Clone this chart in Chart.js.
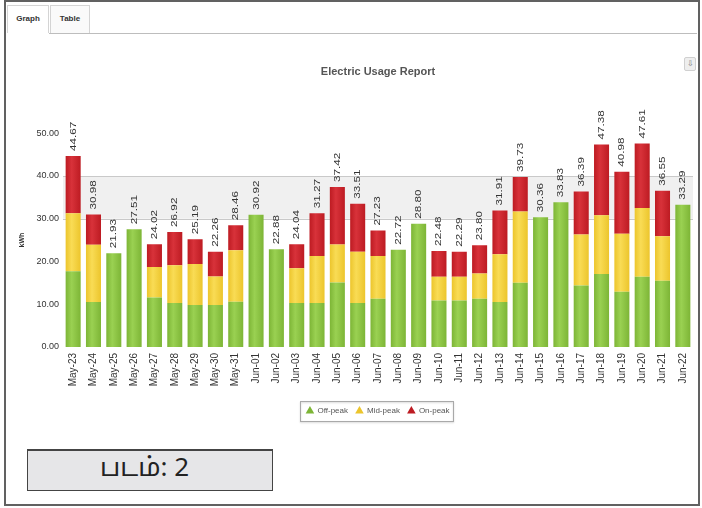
<!DOCTYPE html>
<html>
<head>
<meta charset="utf-8">
<script src="https://cdn.jsdelivr.net/npm/chart.js@4.4.1/dist/chart.umd.min.js"></script>
<style>
  body { margin: 0; width: 702px; height: 508px; background: #fff; overflow: hidden; position: relative; font-family: Arial, "Liberation Sans", sans-serif; }
  #frame { position: absolute; left: 4px; top: 0; width: 696px; height: 506px; border: 2px solid #616161; box-sizing: border-box; }
  .tab { position: absolute; top: 5px; height: 28px; box-sizing: border-box; border: 1px solid #d4d4d4; border-bottom: none; font: bold 8px Arial, sans-serif; color: #333; text-align: center; line-height: 26px; }
  #tab-graph { left: 7px; width: 42px; background: #fff; }
  #tab-table { left: 50px; width: 40px; background: #fafafa; }
  #tab-line { position: absolute; left: 49px; top: 33px; width: 648px; height: 1px; background: #bdbdbd; }
  #download { position: absolute; left: 684px; top: 57px; width: 12px; height: 14px; box-sizing: border-box; border: 1px solid #d0d0d0; border-radius: 2px; background: #eee; font: 8px Arial, sans-serif; color: #777; text-align: center; line-height: 12px; }
  #chart-wrap { position: absolute; left: 0; top: 40px; width: 702px; height: 400px; }
  #caption { position: absolute; left: 27px; top: 449px; width: 246px; height: 42px; box-sizing: border-box; background: #e6e6e8; border: 1px solid #444; border-top-width: 2px; font: 26px "Noto Sans Tamil", "Lohit Tamil", "Noto Sans", sans-serif; color: #222; line-height: 38px; padding-left: 72px; }
</style>
</head>
<body>
<div id="frame"></div>
<div class="tab" id="tab-graph">Graph</div>
<div class="tab" id="tab-table">Table</div>
<div id="tab-line"></div>
<div id="download">&#8681;</div>
<div id="chart-wrap"><canvas id="usage-chart" width="702" height="400"></canvas></div>
<div id="caption">படம்: 2</div>

<script>
// dates on the x axis
const dates = [
  'May-23', 'May-24', 'May-25', 'May-26', 'May-27', 'May-28', 'May-29', 'May-30', 'May-31',
  'Jun-01', 'Jun-02', 'Jun-03', 'Jun-04', 'Jun-05', 'Jun-06', 'Jun-07', 'Jun-08', 'Jun-09',
  'Jun-10', 'Jun-11', 'Jun-12', 'Jun-13', 'Jun-14', 'Jun-15', 'Jun-16', 'Jun-17', 'Jun-18',
  'Jun-19', 'Jun-20', 'Jun-21', 'Jun-22'
];

// kWh per tariff band
const offPeak = [
  17.7, 10.5, 21.93, 27.51, 11.6, 10.3, 9.8, 9.8, 10.6,
  30.92, 22.88, 10.3, 10.3, 15.1, 10.3, 11.3, 22.72, 28.80,
  10.9, 10.9, 11.3, 10.5, 15.0, 30.36, 33.83, 14.4, 17.1,
  12.9, 16.4, 15.5, 33.29
];
const midPeak = [
  13.6, 13.4, 0, 0, 7.1, 8.8, 9.6, 6.7, 12.0,
  0, 0, 8.1, 11.0, 8.9, 12.0, 10.0, 0, 0,
  5.5, 5.5, 5.9, 11.2, 16.7, 0, 0, 11.9, 13.7,
  13.6, 16.1, 10.4, 0
];
const onPeak = [
  13.37, 7.08, 0, 0, 5.32, 7.82, 5.79, 5.76, 5.86,
  0, 0, 5.64, 9.97, 13.42, 11.21, 5.93, 0, 0,
  6.08, 5.89, 6.60, 10.21, 8.03, 0, 0, 10.09, 16.58,
  14.48, 15.11, 10.65, 0
];

// totals printed above each column
const totalLabels = [
  '44.67', '30.98', '21.93', '27.51', '24.02', '26.92', '25.19', '22.26', '28.46',
  '30.92', '22.88', '24.04', '31.27', '37.42', '33.51', '27.23', '22.72', '28.80',
  '22.48', '22.29', '23.80', '31.91', '39.73', '30.36', '33.83', '36.39', '47.38',
  '40.98', '47.61', '36.55', '33.29'
];

const yMin = 0;
const yMax = 50;
const yStep = 10;
const bandFrom = 30;
const bandTo = 40;
const BAR_PCT = 0.74;

// edge / centre shades of each band colour
const shades = {
  green: ['#7db536', '#9ad152'],
  yellow: ['#ecc52c', '#f9dc55'],
  red: ['#bd1b22', '#d8323a'],
};

// horizontal shading across one bar, like the original renderer
function barFill(pair) {
  return (context) => {
    const chart = context.chart;
    const xs = chart.scales && chart.scales.x;
    if (!xs || context.dataIndex === undefined || !chart.chartArea) return pair[0];
    const cx = xs.getPixelForValue(context.dataIndex);
    const half = (xs.width / dates.length) * BAR_PCT / 2;
    const g = chart.ctx.createLinearGradient(cx - half, 0, cx + half, 0);
    g.addColorStop(0, pair[0]);
    g.addColorStop(0.4, pair[1]);
    g.addColorStop(1, pair[0]);
    return g;
  };
}

// shaded band between 30 and 40 kWh
const bandPlugin = {
  id: 'band',
  beforeDatasetsDraw(chart) {
    const { ctx, chartArea, scales } = chart;
    const yTop = scales.y.getPixelForValue(bandTo);
    const yBot = scales.y.getPixelForValue(bandFrom);
    ctx.save();
    ctx.fillStyle = '#f0f0f0';
    ctx.fillRect(chartArea.left, yTop, chartArea.right - chartArea.left, yBot - yTop);
    ctx.strokeStyle = '#c9c9c9';
    ctx.lineWidth = 1;
    ctx.beginPath();
    ctx.moveTo(chartArea.left, Math.round(yTop) + 0.5);
    ctx.lineTo(chartArea.right, Math.round(yTop) + 0.5);
    ctx.moveTo(chartArea.left, Math.round(yBot) + 0.5);
    ctx.lineTo(chartArea.right, Math.round(yBot) + 0.5);
    ctx.stroke();
    ctx.restore();
  },
};

// vertical total above every stack
const totalsPlugin = {
  id: 'totals',
  afterDatasetsDraw(chart) {
    const { ctx, scales } = chart;
    ctx.save();
    ctx.fillStyle = '#333';
    ctx.font = '9px Arial, "Liberation Sans", sans-serif';
    ctx.textAlign = 'left';
    ctx.textBaseline = 'middle';
    dates.forEach((d, i) => {
      const x = scales.x.getPixelForValue(i);
      const y = scales.y.getPixelForValue(offPeak[i] + midPeak[i] + onPeak[i]);
      ctx.save();
      ctx.translate(x, y - 5);
      ctx.rotate(-Math.PI / 2);
      ctx.scale(1.3, 1);
      ctx.fillText(totalLabels[i], 0, 0);
      ctx.restore();
    });
    ctx.restore();
  },
};

// thin box round the legend items
const legendBoxPlugin = {
  id: 'legendBox',
  afterDraw(chart) {
    const boxes = chart.legend && chart.legend.legendHitBoxes;
    if (!boxes || !boxes.length) return;
    const left = Math.min(...boxes.map((b) => b.left)) - 6;
    const right = Math.max(...boxes.map((b) => b.left + b.width)) + 4;
    const top = Math.min(...boxes.map((b) => b.top)) - 6;
    const bottom = Math.max(...boxes.map((b) => b.top + b.height)) + 6;
    const { ctx } = chart;
    ctx.save();
    ctx.strokeStyle = '#a9a9a9';
    ctx.lineWidth = 1;
    ctx.shadowColor = 'rgba(0,0,0,0.2)';
    ctx.shadowOffsetY = 1;
    ctx.shadowBlur = 2;
    ctx.strokeRect(Math.round(left) + 0.5, Math.round(top) + 0.5, Math.round(right - left), Math.round(bottom - top));
    ctx.restore();
  },
};

const ctx = document.getElementById('usage-chart');

new Chart(ctx, {
  type: 'bar',
  data: {
    labels: dates,
    datasets: [
      { label: 'Off-peak', data: offPeak, backgroundColor: barFill(shades.green) },
      { label: 'Mid-peak', data: midPeak, backgroundColor: barFill(shades.yellow) },
      { label: 'On-peak', data: onPeak, backgroundColor: barFill(shades.red) },
    ],
  },
  options: {
    responsive: false,
    animation: false,
    layout: { padding: { left: 10, right: 9, top: 0, bottom: 15 } },
    datasets: {
      bar: { barPercentage: BAR_PCT, categoryPercentage: 1, borderWidth: 0 },
    },
    plugins: {
      title: {
        display: true,
        text: 'Electric Usage Report',
        fullSize: false,
        color: '#555',
        font: { size: 11, weight: 'bold', family: 'Arial, "Liberation Sans", sans-serif' },
        padding: { top: 25, bottom: 55 },
      },
      legend: {
        display: true,
        position: 'bottom',
        fullSize: false,
        labels: {
          usePointStyle: true,
          pointStyle: 'triangle',
          boxWidth: 7,
          boxHeight: 7,
          padding: 8,
          color: '#555',
          font: { size: 8, family: 'Arial, "Liberation Sans", sans-serif' },
          generateLabels(chart) {
            const solid = [shades.green[0], shades.yellow[0], shades.red[0]];
            return chart.data.datasets.map((ds, i) => ({
              text: ds.label,
              fillStyle: solid[i],
              strokeStyle: solid[i],
              lineWidth: 0,
              pointStyle: 'triangle',
              fontColor: '#555',
              datasetIndex: i,
            }));
          },
        },
      },
      tooltip: { enabled: false },
    },
    scales: {
      x: {
        stacked: true,
        grid: { display: false, drawTicks: false },
        border: { display: false },
        afterFit(scale) { scale.height = 52; },
        ticks: {
          autoSkip: false,
          maxRotation: 90,
          minRotation: 90,
          padding: 6,
          color: '#333',
          font: { size: 10, family: 'Arial, "Liberation Sans", sans-serif' },
        },
      },
      y: {
        stacked: true,
        min: yMin,
        max: yMax,
        grid: { display: false, drawTicks: false },
        border: { display: false },
        afterFit(scale) { scale.width = 53; },
        ticks: {
          stepSize: yStep,
          padding: 4,
          color: '#333',
          font: { size: 9, family: 'Arial, "Liberation Sans", sans-serif' },
          callback: (value) => Number(value).toFixed(2),
        },
        title: {
          display: true,
          text: 'kWh',
          color: '#333',
          font: { size: 7, weight: 'bold', family: 'Arial, "Liberation Sans", sans-serif' },
          padding: { top: 8, bottom: 0 },
        },
      },
    },
  },
  plugins: [bandPlugin, totalsPlugin, legendBoxPlugin],
});
</script>
</body>
</html>
